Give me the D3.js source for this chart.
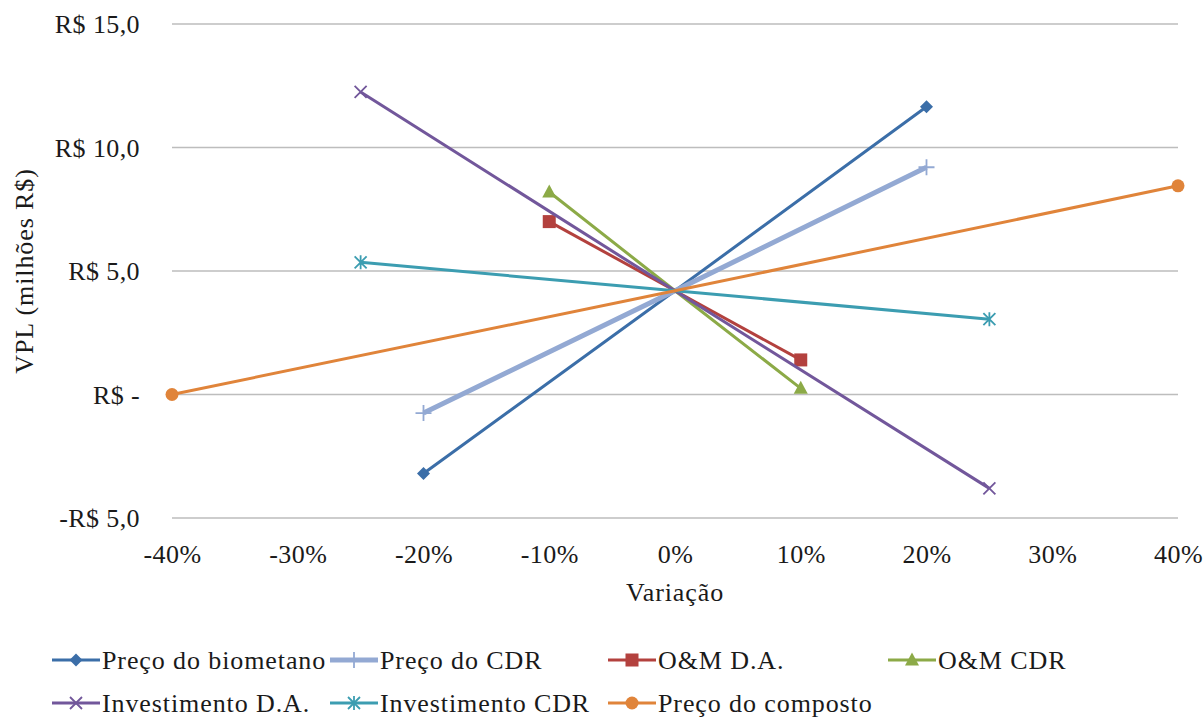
<!DOCTYPE html>
<html>
<head>
<meta charset="utf-8">
<script src="https://cdn.jsdelivr.net/npm/d3@7"></script>
<style>
  html, body { margin: 0; padding: 0; background: #fff; }
  svg text { font-family: "Liberation Serif", "DejaVu Serif", serif; }
</style>
</head>
<body>
<svg id="chart" width="1204" height="717"></svg>
<script>
// Sensitivity of VPL (millions R$) to variation of each parameter
const xTicks = [-0.4, -0.3, -0.2, -0.1, 0, 0.1, 0.2, 0.3, 0.4];
const yTicks = [-5, 0, 5, 10, 15];
const yTickLabels = ["-R$ 5,0", "R$ -", "R$ 5,0", "R$ 10,0", "R$ 15,0"];

const seriesNames = [
  "Preço do biometano", "Preço do CDR", "O&M D.A.", "O&M CDR",
  "Investimento D.A.", "Investimento CDR", "Preço do composto"
];
const precoBiometanoX = [-0.2, 0, 0.2];
const precoBiometanoY = [-3.2, 4.2, 11.65];
const precoCDRX = [-0.2, 0, 0.2];
const precoCDRY = [-0.75, 4.2, 9.2];
const omDAX = [-0.1, 0, 0.1];
const omDAY = [7.0, 4.2, 1.4];
const omCDRX = [-0.1, 0, 0.1];
const omCDRY = [8.2, 4.2, 0.25];
const investDAX = [-0.25, 0, 0.25];
const investDAY = [12.25, 4.2, -3.8];
const investCDRX = [-0.25, 0, 0.25];
const investCDRY = [5.35, 4.2, 3.05];
const precoCompostoX = [-0.4, 0, 0.4];
const precoCompostoY = [0.0, 4.2, 8.45];

const seriesX = [precoBiometanoX, precoCDRX, omDAX, omCDRX, investDAX, investCDRX, precoCompostoX];
const seriesY = [precoBiometanoY, precoCDRY, omDAY, omCDRY, investDAY, investCDRY, precoCompostoY];

const colors = ["#3b6ea8", "#93a9d3", "#b3413e", "#8caa47", "#72579b", "#3c9db1", "#e0843a"];
const widths = [3, 5, 3, 3, 3, 3, 3];
const markers = ["diamond", "plus", "square", "triangle", "cross", "asterisk", "circle"];

const FONT = "'Liberation Serif', 'DejaVu Serif', serif";
const FS = 26;
const LS = 0.4;
const LS_TEXT = 0.9;

const svg = d3.select("#chart");
const x = d3.scaleLinear().domain([-0.4, 0.4]).range([172, 1178]);
const y = d3.scaleLinear().domain([-5, 15]).range([518, 24]);

// horizontal gridlines
svg.append("g").selectAll("line").data(yTicks).join("line")
  .attr("x1", x(-0.4)).attr("x2", x(0.4))
  .attr("y1", d => y(d)).attr("y2", d => y(d))
  .attr("stroke", "#bdbdbd").attr("stroke-width", 1.5);

// y axis labels
const yAxis = d3.axisLeft(y).tickValues(yTicks)
  .tickFormat((d, i) => yTickLabels[i]).tickSize(0).tickPadding(32);
const gy = svg.append("g").attr("transform", `translate(${x(-0.4)},0)`).call(yAxis)
  .attr("font-family", FONT);
gy.select(".domain").remove();
gy.selectAll("text").attr("font-size", FS).attr("fill", "#1a1a1a")
  .attr("letter-spacing", LS).attr("dy", "0.33em");

// x axis labels
const xAxis = d3.axisBottom(x).tickValues(xTicks)
  .tickFormat(d => Math.round(d * 100) + "%").tickSize(0).tickPadding(27);
const gx = svg.append("g").attr("transform", `translate(0,${y(-5)})`).call(xAxis)
  .attr("font-family", FONT);
gx.select(".domain").remove();
gx.selectAll("text").attr("font-size", FS).attr("fill", "#1a1a1a").attr("letter-spacing", LS);

// axis titles
svg.append("text").attr("x", 675).attr("y", 601).attr("text-anchor", "middle")
  .attr("font-family", FONT).attr("letter-spacing", LS_TEXT)
  .attr("font-size", FS).attr("fill", "#1a1a1a").text("Variação");
svg.append("text").attr("transform", "translate(33,271) rotate(-90)")
  .attr("font-family", FONT).attr("letter-spacing", LS_TEXT)
  .attr("text-anchor", "middle").attr("font-size", FS).attr("fill", "#1a1a1a")
  .text("VPL (milhões R$)");

function drawMarker(g, type, cx, cy, color) {
  const s = 6.5;
  if (type === "diamond") {
    g.append("path").attr("d", `M${cx},${cy - s} L${cx + s},${cy} L${cx},${cy + s} L${cx - s},${cy} Z`)
      .attr("fill", color);
  } else if (type === "square") {
    g.append("rect").attr("x", cx - 6.5).attr("y", cy - 6.5).attr("width", 13).attr("height", 13)
      .attr("fill", color);
  } else if (type === "triangle") {
    g.append("path").attr("d", `M${cx},${cy - 7.5} L${cx + 7},${cy + 5.5} L${cx - 7},${cy + 5.5} Z`)
      .attr("fill", color);
  } else if (type === "circle") {
    g.append("circle").attr("cx", cx).attr("cy", cy).attr("r", 6.5).attr("fill", color);
  } else if (type === "plus") {
    g.append("path").attr("d", `M${cx - 8},${cy} H${cx + 8} M${cx},${cy - 8} V${cy + 8}`)
      .attr("stroke", color).attr("stroke-width", 1.8).attr("fill", "none");
  } else if (type === "cross") {
    g.append("path").attr("d", `M${cx - 6},${cy - 6} L${cx + 6},${cy + 6} M${cx + 6},${cy - 6} L${cx - 6},${cy + 6}`)
      .attr("stroke", color).attr("stroke-width", 1.8).attr("fill", "none");
  } else if (type === "asterisk") {
    g.append("path").attr("d",
      `M${cx - 6},${cy - 6} L${cx + 6},${cy + 6} M${cx + 6},${cy - 6} L${cx - 6},${cy + 6} M${cx},${cy - 7} V${cy + 7}`)
      .attr("stroke", color).attr("stroke-width", 1.8).attr("fill", "none");
  }
}

// series lines and markers
const line = d3.line().x(d => x(d[0])).y(d => y(d[1]));
seriesNames.forEach((name, i) => {
  const pts = seriesX[i].map((v, j) => [v, seriesY[i][j]]);
  const g = svg.append("g");
  g.append("path").datum(pts).attr("d", line)
    .attr("fill", "none").attr("stroke", colors[i]).attr("stroke-width", widths[i]);
  [pts[0], pts[pts.length - 1]].forEach(p => drawMarker(g, markers[i], x(p[0]), y(p[1]), colors[i]));
});

// legend
const legendPos = [[52, 660], [330, 660], [608, 660], [888, 660], [52, 703], [330, 703], [608, 703]];
seriesNames.forEach((name, i) => {
  const [lx, ly] = legendPos[i];
  const g = svg.append("g");
  g.append("line").attr("x1", lx).attr("x2", lx + 48).attr("y1", ly).attr("y2", ly)
    .attr("stroke", colors[i]).attr("stroke-width", widths[i]);
  drawMarker(g, markers[i], lx + 24, ly, colors[i]);
  g.append("text").attr("x", lx + 50).attr("y", ly).attr("dy", "0.33em")
    .attr("font-family", FONT).attr("letter-spacing", LS_TEXT)
    .attr("font-size", FS).attr("fill", "#1a1a1a").text(name);
});
</script>
</body>
</html>
